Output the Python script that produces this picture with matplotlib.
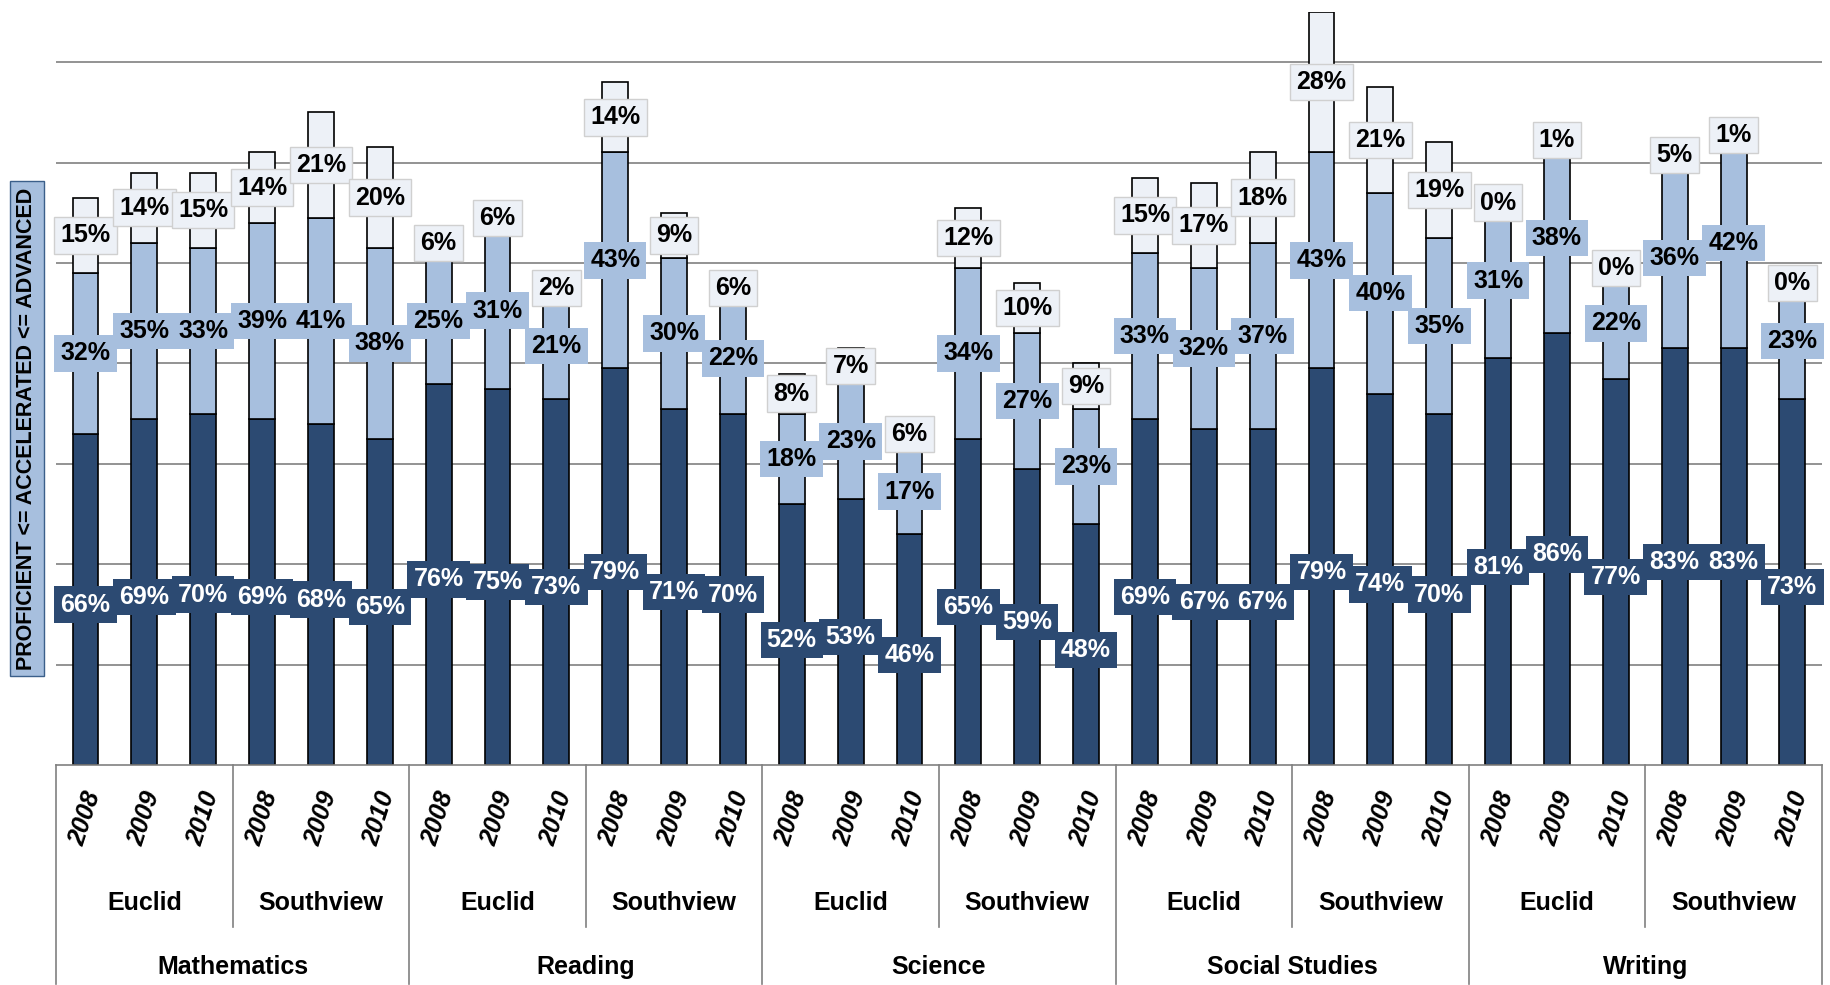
import matplotlib.pyplot as plt
import matplotlib.transforms as mtransforms

subjects = ['Mathematics', 'Reading', 'Science', 'Social Studies', 'Writing']
schools = ['Euclid', 'Southview']
years = ['2008', '2009', '2010']

proficient = [66, 69, 70, 69, 68, 65,
              76, 75, 73, 79, 71, 70,
              52, 53, 46, 65, 59, 48,
              69, 67, 67, 79, 74, 70,
              81, 86, 77, 83, 83, 73]
accelerated = [32, 35, 33, 39, 41, 38,
               25, 31, 21, 43, 30, 22,
               18, 23, 17, 34, 27, 23,
               33, 32, 37, 43, 40, 35,
               31, 38, 22, 36, 42, 23]
advanced = [15, 14, 15, 14, 21, 20,
            6, 6, 2, 14, 9, 6,
            8, 7, 6, 12, 10, 9,
            15, 17, 18, 28, 21, 19,
            0, 1, 0, 5, 1, 0]

c_dark = '#2c4a72'
c_mid = '#a7bfde'
c_light = '#edf1f7'

plt.rcParams['font.family'] = ['Liberation Sans', 'DejaVu Sans']
fig = plt.figure(figsize=(18.31, 9.85), dpi=100)
ax = fig.add_axes([0.0306, 0.223, 0.9644, 0.765])

n = len(proficient)
x = list(range(n))
w = 0.44
bot2 = [p + a for p, a in zip(proficient, accelerated)]
ax.bar(x, proficient, w, color=c_dark, edgecolor='black', linewidth=1.2, zorder=2)
ax.bar(x, accelerated, w, bottom=proficient, color=c_mid, edgecolor='black', linewidth=1.2, zorder=2)
ax.bar(x, advanced, w, bottom=bot2, color=c_light, edgecolor='black', linewidth=1.2, zorder=2)

fs = 18
for i in range(n):
    p, a, d = proficient[i], accelerated[i], advanced[i]
    ax.text(i, p / 2 - 1, '%d%%' % p, ha='center', va='center', fontsize=fs, fontweight='bold',
            color='white', zorder=4,
            bbox=dict(boxstyle='square,pad=0.25', fc=c_dark, ec='none'))
    ax.text(i, p + a / 2, '%d%%' % a, ha='center', va='center', fontsize=fs, fontweight='bold',
            color='black', zorder=4,
            bbox=dict(boxstyle='square,pad=0.25', fc=c_mid, ec='none'))
    ax.text(i, p + a + d / 2, '%d%%' % d, ha='center', va='center', fontsize=fs, fontweight='bold',
            color='black', zorder=4,
            bbox=dict(boxstyle='square,pad=0.25', fc=c_light, ec='#d0d0d0'))

ax.set_xlim(-0.5, n - 0.5)
ax.set_ylim(0, 150)
ax.set_yticks(range(20, 141, 20))
ax.tick_params(left=False, labelleft=False, bottom=False, labelbottom=False)
ax.grid(axis='y', color='#808080', linewidth=1.2, zorder=0)
for s in ['top', 'right', 'left']:
    ax.spines[s].set_visible(False)
ax.spines['bottom'].set_color('#808080')
ax.spines['bottom'].set_linewidth(1.2)

# multi-level category axis
tr = mtransforms.blended_transform_factory(ax.transData, ax.transAxes)
for i in range(n):
    ax.text(i, -0.03, years[i % 3], transform=tr, rotation=72, ha='center', va='top',
            fontsize=fs, fontweight='bold', style='italic')
for k in range(10):
    ax.text(3 * k + 1, -0.183, schools[k % 2], transform=tr, ha='center', va='center',
            fontsize=fs, fontweight='bold')
for k in range(5):
    ax.text(6 * k + 2.5, -0.267, subjects[k], transform=tr, ha='center', va='center',
            fontsize=fs, fontweight='bold')
for k in range(11):
    xb = 3 * k - 0.5
    ymin = -0.29 if k % 2 == 0 else -0.215
    ax.plot([xb, xb], [0, ymin], transform=tr, color='#808080', linewidth=1.2, clip_on=False)

fig.text(0.0145, 0.565, 'PROFICIENT <= ACCELERATED <= ADVANCED', rotation=90, ha='center',
         va='center', fontsize=15.5, fontweight='bold',
         bbox=dict(boxstyle='square,pad=0.3', fc=c_mid, ec='#3b5f8a'))

fig.savefig('out.png', dpi=100)
